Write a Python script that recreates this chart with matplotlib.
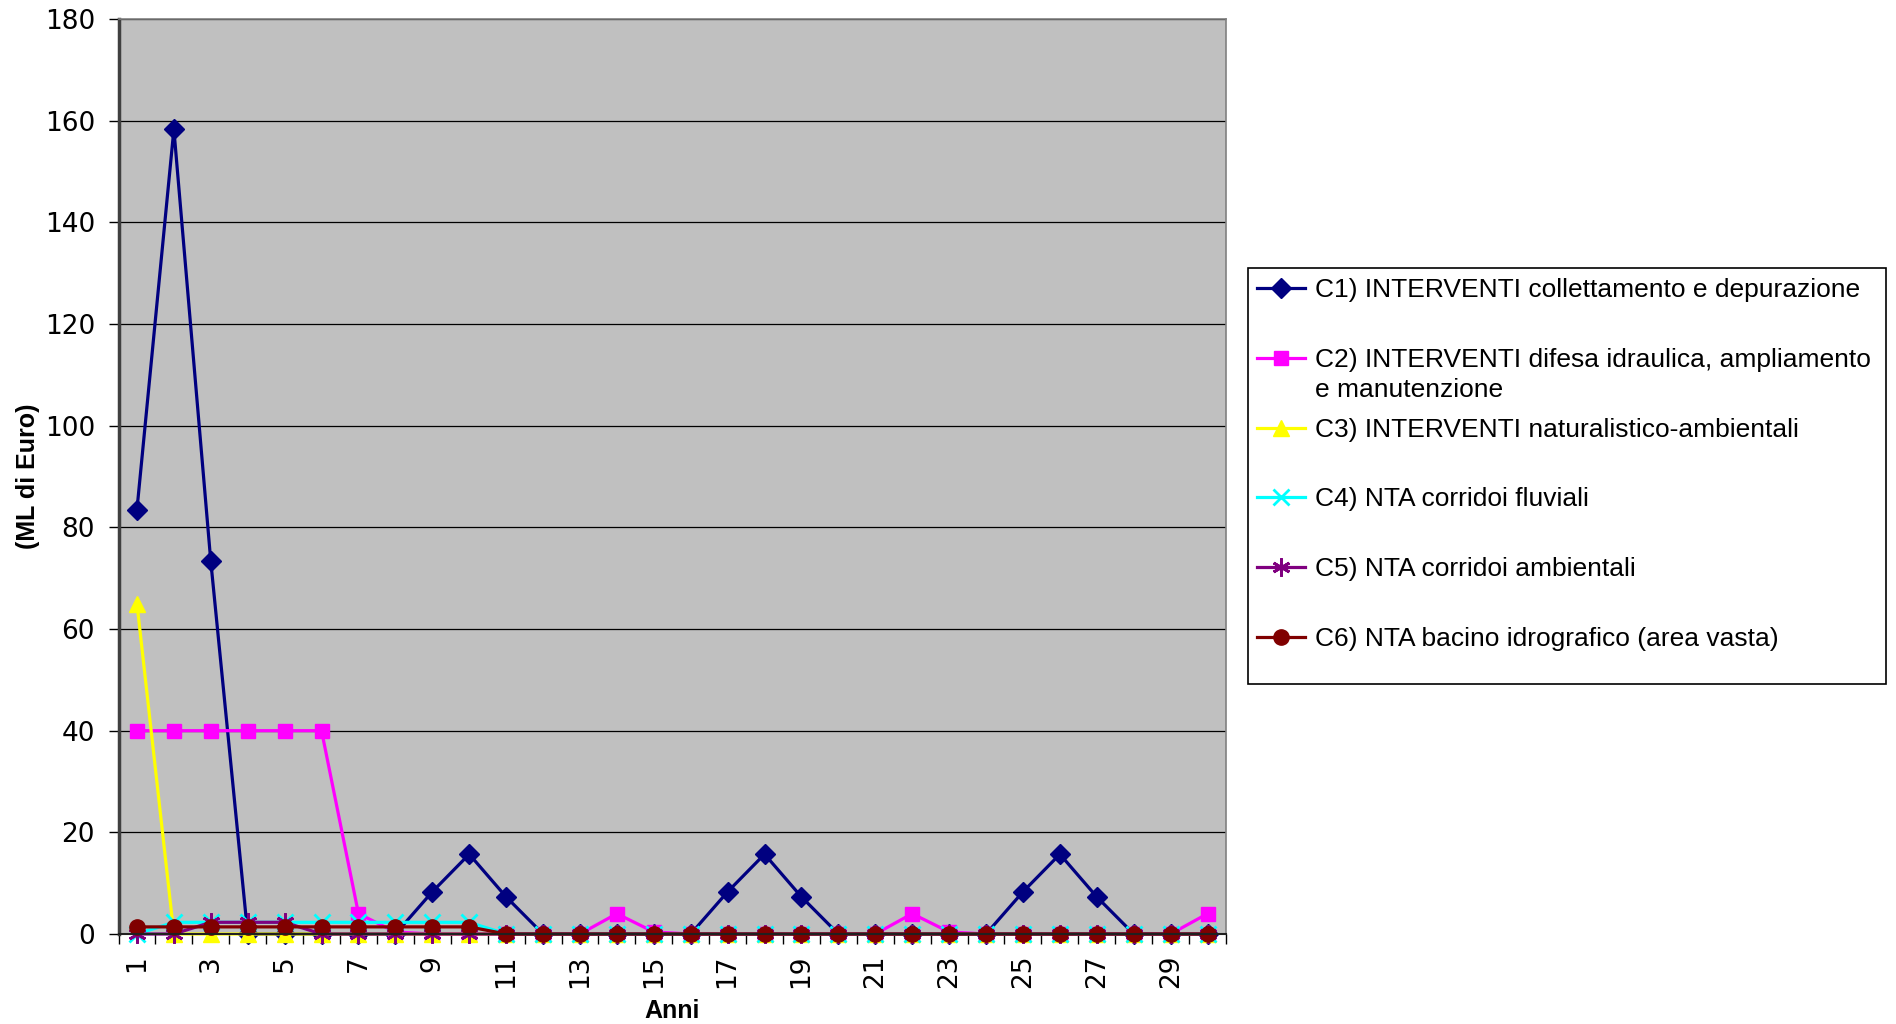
import matplotlib.pyplot as plt
from matplotlib.patches import Rectangle

anni = list(range(1, 31))

c1 = [83.5, 158.3, 73.3, 0, 0, 0, 0, 0, 8.3, 15.7, 7.3, 0, 0, 0, 0,
      0, 8.3, 15.7, 7.3, 0, 0, 0, 0, 0, 8.3, 15.7, 7.3, 0, 0, 0]
c2 = [40, 40, 40, 40, 40, 40, 4, 0.4, 0, 0, 0, 0, 0, 4, 0.4,
      0, 0, 0, 0, 0, 0, 4, 0.4, 0, 0, 0, 0, 0, 0, 4]
c3 = [65] + [0] * 29
c4 = [0, 2.3, 2.3, 2.3, 2.3, 2.3, 2.3, 2.3, 2.3, 2.3] + [0] * 20
c5 = [0, 0, 2.3, 2.3, 2.3] + [0] * 25
c6 = [1.4] * 10 + [0] * 20

etichette = [
    "C1) INTERVENTI collettamento e depurazione",
    "C2) INTERVENTI difesa idraulica, ampliamento",
    "C3) INTERVENTI naturalistico-ambientali",
    "C4) NTA corridoi fluviali",
    "C5) NTA corridoi ambientali",
    "C6) NTA bacino idrografico (area vasta)",
]
seconda_riga_c2 = "e manutenzione"
colori = ["#000080", "#FF00FF", "#FFFF00", "#00FFFF", "#800080", "#800000"]
marker = ["D", "s", "^", "x", (6, 2, 0), "o"]
msize = [10, 10, 11, 11, 13, 11]

arial = ["Liberation Sans", "DejaVu Sans"]

fig = plt.figure(figsize=(18.96, 10.24), dpi=100)
ax = fig.add_axes([118.5 / 1896, 1 - 934 / 1024, (1226 - 118.5) / 1896, (934 - 19) / 1024])
ax.set_facecolor("#C0C0C0")

serie = [c1, c2, c3, c4, c5, c6]
handles = []
for vals, col, mk, ms, lab in zip(serie, colori, marker, msize, etichette):
    (h,) = ax.plot(anni, vals, color=col, lw=2.3, marker=mk, ms=ms,
                   mfc=col, mec=col, mew=2 if mk in ("x", (6, 2, 0)) else 1,
                   label=lab, clip_on=False)
    handles.append(h)

ax.set_ylim(0, 180)
ax.set_yticks(range(0, 181, 20))
ax.set_xlim(0.5, 30.5)
ax.set_xticks(anni)
ax.set_xticklabels([str(a) if a % 2 == 1 else "" for a in anni], rotation=90,
                   fontsize=19, va="top")
ax.set_xticks([a + 0.5 for a in range(0, 31)], minor=True)
ax.tick_params(axis="x", which="major", length=0, pad=15)
ax.tick_params(axis="x", which="minor", length=7, width=1, color="black", direction="out")
ax.tick_params(axis="y", length=7, width=1, direction="out", labelsize=19, pad=10)

ax.yaxis.grid(True, color="black", lw=0.9)
ax.set_axisbelow(True)
for s in ["top", "right"]:
    ax.spines[s].set_color("#808080")
    ax.spines[s].set_linewidth(1.2)
ax.spines["left"].set_color("#404040")
ax.spines["left"].set_linewidth(2.5)
ax.spines["bottom"].set_color("#202020")
ax.spines["bottom"].set_linewidth(1.5)

ax.set_xlabel("Anni", fontsize=18, fontweight="bold", family=arial)
ax.set_ylabel("(ML di Euro)", fontsize=18, fontweight="bold", family=arial)
ax.yaxis.set_label_coords(-(118.5 - 40) / (1226 - 118.5), 0.5)
ax.xaxis.set_label_coords(0.5, -(999 - 934) / (934 - 19))

# cornice della legenda
fig.patches.append(Rectangle((1248 / 1896, 1 - 684 / 1024), (1886 - 1248) / 1896, (684 - 268) / 1024,
                             transform=fig.transFigure, fill=False, edgecolor="black", lw=1.2))
leg = fig.legend(handles=handles, loc="upper left",
                 bbox_to_anchor=(1257 / 1896, 1 - 278.5 / 1024),
                 frameon=False, borderpad=0, borderaxespad=0,
                 handlelength=1.82, handletextpad=0.37, labelspacing=1.73,
                 prop={"family": arial, "size": 19})

# seconda riga dell'etichetta C2, sotto la prima
fig.canvas.draw()
bb = leg.get_texts()[1].get_window_extent()
fig.text(bb.x0 / fig.bbox.width, (bb.y0 - 30) / fig.bbox.height, seconda_riga_c2,
         family=arial, fontsize=19, va="bottom", ha="left")

fig.savefig("out.png", dpi=100, facecolor="white")
